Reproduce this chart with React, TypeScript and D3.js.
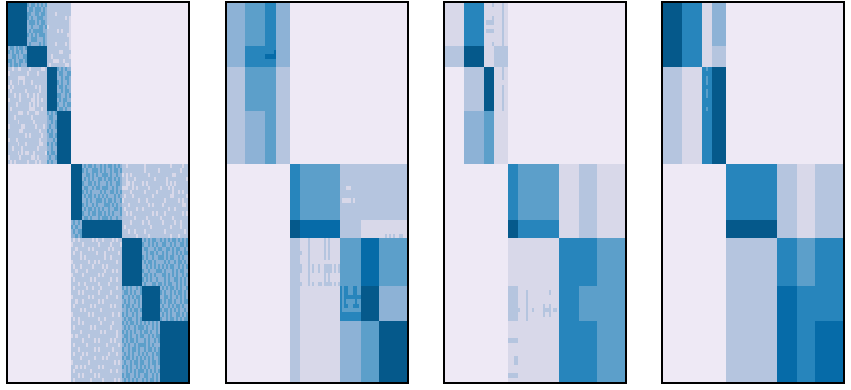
import * as d3 from 'd3'

// colour classes, light to dark
const levels = [0, 1, 2, 3, 4, 5, 6, 7]
const levelColors = ['#eee9f5', '#d8d8e9', '#b5c5df', '#8db2d6', '#5c9fca', '#2785bc', '#066ba8', '#05598b']

// block sizes and how many matrix rows / columns each block holds
const rowSizes = [43, 21, 44, 53, 56, 18, 48, 35, 61]
const rowCounts = [10, 5, 10, 12, 13, 4, 11, 8, 14]
const colCounts = [10, 10, 5, 7, 5, 20, 10, 9, 14]

const colSizes1 = [19, 20, 10, 14, 11, 40, 20, 18, 28]
const colSizes2 = [18, 20, 11, 14, 10, 40, 21, 18, 28]
const colSizes3 = [19, 20, 10, 14, 10, 41, 20, 18, 28]
const colSizes4 = [19, 20, 10, 14, 11, 40, 20, 18, 28]

const blocks1 = [
  [7, 3, 2, 2, 0, 0, 0, 0, 0],
  [3, 7, 2, 2, 0, 0, 0, 0, 0],
  [2, 2, 7, 3, 0, 0, 0, 0, 0],
  [2, 2, 3, 7, 0, 0, 0, 0, 0],
  [0, 0, 0, 0, 7, 3, 2, 2, 2],
  [0, 0, 0, 0, 3, 7, 2, 2, 2],
  [0, 0, 0, 0, 2, 2, 7, 3, 3],
  [0, 0, 0, 0, 2, 2, 3, 7, 3],
  [0, 0, 0, 0, 2, 2, 3, 3, 7],
]
const blocks2 = [
  [3, 4, 5, 3, 0, 0, 0, 0, 0],
  [3, 5, 5, 3, 0, 0, 0, 0, 0],
  [2, 4, 4, 2, 0, 0, 0, 0, 0],
  [2, 3, 4, 2, 0, 0, 0, 0, 0],
  [0, 0, 0, 0, 5, 4, 2, 2, 2],
  [0, 0, 0, 0, 7, 6, 2, 1, 1],
  [0, 0, 0, 0, 2, 1, 4, 6, 4],
  [0, 0, 0, 0, 2, 1, 5, 7, 3],
  [0, 0, 0, 0, 2, 1, 3, 4, 7],
]
const blocks3 = [
  [1, 5, 1, 1, 0, 0, 0, 0, 0],
  [2, 7, 1, 2, 0, 0, 0, 0, 0],
  [0, 2, 7, 1, 0, 0, 0, 0, 0],
  [0, 3, 4, 1, 0, 0, 0, 0, 0],
  [0, 0, 0, 0, 5, 4, 1, 2, 1],
  [0, 0, 0, 0, 7, 5, 1, 2, 1],
  [0, 0, 0, 0, 1, 1, 5, 5, 4],
  [0, 0, 0, 0, 2, 1, 5, 4, 4],
  [0, 0, 0, 0, 1, 1, 5, 5, 4],
]
const blocks4 = [
  [7, 5, 1, 3, 0, 0, 0, 0, 0],
  [7, 5, 1, 2, 0, 0, 0, 0, 0],
  [2, 1, 5, 7, 0, 0, 0, 0, 0],
  [2, 1, 5, 7, 0, 0, 0, 0, 0],
  [0, 0, 0, 0, 5, 5, 2, 1, 2],
  [0, 0, 0, 0, 7, 7, 2, 1, 2],
  [0, 0, 0, 0, 2, 2, 5, 4, 5],
  [0, 0, 0, 0, 2, 2, 6, 5, 5],
  [0, 0, 0, 0, 2, 2, 6, 5, 6],
]

// first panel: '#' marks a cell that moves one class away from its block's base
const altLevel = { 2: 1, 3: 4 }
const noiseTop = [
  '.......... #.##.#.#.# ............',
  '.......... .##.###.#. ............',
  '.......... ##..##.##. ....#.......',
  '.......... #.#..###.. .........#.#',
  '.......... .###.#.##. ...........#',
  '.......... ..#...##.# #..........#',
  '.......... .#.#####.. .....#.#...#',
  '.......... #.#.#.###. ..........##',
  '.......... ..###...#. ...........#',
  '.......... .#....#.#. ....#....#.#',
  '.##.#.##.# .......... ...........#',
  '#.#.##.#.. .......... ......##....',
  '..##.#..## .......... ..#........#',
  '##.#..##.# .......... ...###..#...',
  '.#.##.#... .......... .#.......##.',
  '..#..##....#.....##. ..... #.#.#..',
  '#.........#....#.... ..... .##..##',
  '.....####........... ..... ..#.##.',
  '.#...#..#...#....... ..... #.#..#.',
  '#.#...........#.#... ..... .##.#..',
  '.#.......#......#... ..... ..#.##.',
  '...#..#...#..#.#.... ..... ##..#.#',
  '#.....#.....##.#.#.. ..... .#.##..',
  '....#......#.#.#.... ..... #..#.##',
  '.#.........###...#.. ..... .##.#..',
  '.....###..#...##.... #.#.# .......',
  '...#........#....... .##.. .......',
  '.....#.......#...... ..#.# .......',
  '#......##.....#...#. .#..# .......',
  '......##........#... #.#.. .......',
  '.........#.#.....#.. .##.# .......',
  '#...#...........#... ...#. .......',
  '.....#...#......##.. #.#.# .......',
  '..#....#.......#.... ..#.. .......',
  '.....#.#.##..#.....# #.##. .......',
  '#.....#.....##.#.... .#..# .......',
  '.#.#......#...#.#... #.#.. .......',
]
const noiseBottom = [
  '..... .#.##.#..#.#.##.#.#. ..#....... .#....... .....#.....#..',
  '..... #.#..###.#.#..#.##. #......... ..#...... #..........#..',
  '..... ..##.#.#..###.#..#. .#.#.#.... ....#.... .......##.....',
  '..... .#.#.#..##.#.##.#.#. ..#...#... ......#.. ...#.........#',
  '..... #..##.#.#...#.#..##. ..##.#.... #.#...... ...#.#.#......',
  '..... .##..#.##.###..#.#.. ###..#.#.. ...#..... #...#.#.......',
  '..... #.#.#....#.#..##.#.# ....#..... .#.....#. ......#..#.#..',
  '..... .#.##.#.#.#.#...#.#. .#...#.... .....#... .....##......#',
  '..... ..#.#..###.#.##.#..# #.......#. ..#...... ..#......#.#..',
  '..... #.#..#.#...###.#.#.. ...#...... ...#.#... .#.........##.',
  '..... .#.##.#.#.#..#..##.# .#.....#.. #........ ....#..#......',
  '..... #..#.##.##.#.#.#...# ..#.#..... .....#.#. ..#........#.#',
  '..... .##.#...#.###.#..#.. ......#... ..#...... #.....#.......',
  '.#.#. .................... ....#..... #..#..... .#.....#..#...',
  '#.#.. .................... .#........ ....#.... .....#....#...',
  '.#.## .................... ...#..#... .#....... ..#.........#.',
  '..#.# .................... .......#.. ...#..... .....#...#....',
  '.#.#......#.#..#....#.#.. .......... .#.#.##.. #.#.#.##.#.#.#',
  '#....#.......#.....#....# .......... #..#.#.#. .##..#.#..##.#',
  '..#.....#.#.......#.#.... .......... .##...#.# #..##.#.##..#.',
  '.#..#.......#...#......#. .......... ..#.##.#. .#.#..#.#.#.##',
  '....#.#.........#..#..... .......... #.#..#..# ##.#.##..#.#..',
  '#.......#..#.#........#.. .......... .#.##.#.. ..#.#..#.##.#.',
  '.#..#.....#....#.#....... .......... ..#.#.#.# .#.#.##..#.#.#',
  '..#....#........#...#.#.. .......... #..#...## #.#...#.#.##..',
  '#....#.......#.#......... .......... .##.#.#.. .##.#.#.#..#.#',
  '.#.......#.#.......#..#.. .......... #.#.#..#. ..#.#..##.#.#.',
  '...#..#......#....#...... .......... .#...##.# #.#.##..#.#.#.',
  '.#.....#..#...#.......#.. #.#.#..#.# ......... .#.#.##.#.#..#',
  '...#.#.......#.....#..... .##.#.#..# ......... #.#..#.#.##.#.',
  '#.......#.#......#....#.. #..#.#.##. ......... ..##.#..#.#.#.',
  '..#..#.......#.#......... .#.#..#.#. ......... #.#.##.#..#.##',
  '.#.......#.#.......#.#... #.##.#..#. ......... .#..#.#.##.#..',
  '....#.#.......#.......... ..#.#.##.# ......... #.##.#.#.#..#.',
  '#.......#.#.........#..#. #.#..#.#.. ......... .#.#.#..##.#.#',
  '.#.#.........#..#........ .#.##..#.# ......... #..#.##.#.#.##',
  '...#.#........#.....#.... #.#.##.#.# .#.#.#.#. ..............',
  '.#.......#.#.......#..... .#.#..#.## #.#..#.#. ..............',
  '....#.........#.#.....#.. #.#.#.#..# .##.#..#. ..............',
  '#.#.....#.............#.. .##.#..#.# #..#.#.## ..............',
  '.....#.....#.#.....#.#... #.#.##.#.. .#.#..#.# ..............',
  '.#.....#.........#.....#. .#.#..#.## ##.#.#... ..............',
  '...#.......#.#......#.... #..#.##.#. .#.##.#.# ..............',
  '.#...#.#..........#...#.. .#.#.#..#. #.#..#.## ..............',
  '....#......#...#.#....... #.##.#.#.# .#.#.#..# ..............',
  '#.......#............#.#. .#..#.##.# #..#.##.# ..............',
  '..#.#.#......#.#......... #.#.#..#.# .#.#..#.. ..............',
  '.#.......#.........#..#.. ..#.#.#.## #.#.#.#.# ..............',
  '...#.#.....#.#........... #.##..#.#. .##..#.#. ..............',
  '.#.......#.....#.....#.#. .#.#.#.#.. #.#.##.#. ..............',
]

// small patches: [rowBlock, firstRow, lastRow, colBlock, firstCol, lastCol, level], all local to the block
const patches2 = [
  [1, 2, 2, 2, 0, 4, 6],
  [1, 1, 1, 2, 4, 4, 6],
  [4, 5, 5, 6, 3, 4, 1],
  [4, 8, 8, 6, 1, 4, 1],
  [4, 8, 8, 6, 6, 6, 1],
  [5, 3, 3, 8, 3, 3, 2],
  [5, 3, 3, 8, 5, 5, 2],
  [5, 3, 3, 8, 7, 7, 2],
  [5, 3, 3, 8, 10, 11, 2],
  [5, 0, 3, 6, 0, 9, 2],
  [6, 0, 10, 5, 4, 4, 2],
  [6, 0, 4, 5, 12, 12, 2],
  [6, 0, 4, 5, 14, 14, 2],
  [6, 3, 3, 5, 0, 0, 2],
  [6, 6, 7, 5, 0, 0, 2],
  [6, 6, 7, 5, 6, 6, 2],
  [6, 6, 7, 5, 9, 9, 2],
  [6, 6, 7, 5, 12, 15, 2],
  [6, 6, 7, 5, 17, 17, 2],
  [6, 6, 7, 5, 19, 19, 2],
  [6, 8, 9, 5, 12, 12, 2],
  [6, 8, 9, 5, 14, 14, 2],
  [6, 10, 10, 5, 0, 0, 2],
  [6, 10, 10, 5, 6, 6, 2],
  [6, 10, 10, 5, 9, 10, 2],
  [6, 10, 10, 5, 12, 15, 2],
  [6, 10, 10, 5, 17, 17, 2],
  [6, 10, 10, 5, 19, 19, 2],
  [7, 0, 5, 6, 1, 9, 4],
  [7, 0, 2, 6, 2, 3, 5],
  [7, 0, 2, 6, 6, 7, 5],
  [7, 2, 2, 6, 3, 9, 5],
  [7, 3, 4, 6, 2, 2, 5],
  [7, 4, 4, 6, 2, 3, 5],
  [7, 3, 4, 6, 7, 7, 5],
  [7, 4, 4, 6, 6, 8, 5],
]
const patches3 = [
  [0, 0, 0, 2, 4, 4, 2],
  [0, 3, 4, 2, 4, 4, 2],
  [0, 9, 9, 2, 4, 4, 2],
  [0, 4, 4, 2, 1, 3, 2],
  [0, 6, 6, 2, 1, 4, 2],
  [0, 0, 9, 3, 4, 4, 2],
  [2, 0, 2, 3, 4, 4, 2],
  [2, 4, 9, 3, 4, 4, 2],
  [7, 5, 5, 5, 0, 0, 2],
  [7, 1, 7, 5, 4, 4, 2],
  [7, 5, 5, 5, 7, 7, 2],
  [7, 4, 6, 5, 12, 12, 2],
  [7, 5, 5, 5, 13, 15, 2],
  [7, 4, 6, 5, 15, 15, 2],
  [7, 1, 1, 5, 15, 15, 2],
  [7, 5, 5, 5, 17, 18, 2],
  [8, 4, 4, 4, 0, 4, 2],
  [8, 8, 9, 4, 3, 4, 2],
  [8, 12, 12, 4, 0, 4, 2],
]
const patches4 = [
  [2, 0, 0, 2, 2, 2, 4],
  [2, 2, 3, 2, 2, 2, 4],
  [2, 5, 6, 2, 2, 2, 4],
  [2, 9, 9, 2, 2, 2, 4],
]

const noiseRows = [...noiseTop, ...noiseBottom].map((row) => row.replace(/ /g, ''))

const panels = [
  { left: 8, colSizes: colSizes1, blocks: blocks1, patches: [], noise: true },
  { left: 227, colSizes: colSizes2, blocks: blocks2, patches: patches2, noise: false },
  { left: 445, colSizes: colSizes3, blocks: blocks3, patches: patches3, noise: false },
  { left: 663, colSizes: colSizes4, blocks: blocks4, patches: patches4, noise: false },
]

const top = 3
const plotHeight = 379
const plotWidth = 180

const color = d3.scaleOrdinal<number, string>().domain(levels).range(levelColors)

// block edges through a linear scale over the summed sizes
function blockEdges(sizes: number[], start: number, length: number) {
  const scale = d3.scaleLinear().domain([0, d3.sum(sizes)]).range([start, start + length])
  return [0, ...d3.cumsum(sizes)].map((d) => scale(d))
}

// edge of a single matrix row / column inside a block
function cellEdge(edges: number[], counts: number[], block: number, index: number) {
  const scale = d3.scaleLinear().domain([0, counts[block]]).range([edges[block], edges[block + 1]])
  return scale(index)
}

function Panel({ panel }: { panel: (typeof panels)[number] }) {
  const xEdges = blockEdges(panel.colSizes, panel.left, plotWidth)
  const yEdges = blockEdges(rowSizes, top, plotHeight)

  const cellRect = (rb: number, r0: number, r1: number, cb: number, c0: number, c1: number) => {
    const x = cellEdge(xEdges, colCounts, cb, c0)
    const y = cellEdge(yEdges, rowCounts, rb, r0)
    return {
      x,
      y,
      width: cellEdge(xEdges, colCounts, cb, c1 + 1) - x,
      height: cellEdge(yEdges, rowCounts, rb, r1 + 1) - y,
    }
  }

  const noiseCells: { rb: number; r: number; cb: number; c: number; level: number }[] = []
  if (panel.noise) {
    const rowStarts = [0, ...d3.cumsum(rowCounts)]
    const colStarts = [0, ...d3.cumsum(colCounts)]
    rowCounts.forEach((rowCount, rb) => {
      d3.range(rowCount).forEach((r) => {
        const line = noiseRows[rowStarts[rb] + r]
        // the bottom half of the list starts at the fifth column block
        const offset = rb >= 4 ? colStarts[4] : 0
        colCounts.forEach((colCount, cb) => {
          d3.range(colCount).forEach((c) => {
            const base = panel.blocks[rb][cb]
            const alt = altLevel[base as 2 | 3]
            if (alt !== undefined && line[colStarts[cb] + c - offset] === '#') {
              noiseCells.push({ rb, r, cb, c, level: alt })
            }
          })
        })
      })
    })
  }

  return (
    <g shapeRendering="crispEdges">
      {panel.blocks.map((row, rb) =>
        row.map((level, cb) => (
          <rect
            key={`${rb}-${cb}`}
            x={xEdges[cb]}
            y={yEdges[rb]}
            width={xEdges[cb + 1] - xEdges[cb]}
            height={yEdges[rb + 1] - yEdges[rb]}
            fill={color(level)}
          />
        ))
      )}
      {noiseCells.map((d, i) => (
        <rect key={`n${i}`} {...cellRect(d.rb, d.r, d.r, d.cb, d.c, d.c)} fill={color(d.level)} />
      ))}
      {panel.patches.map((p, i) => (
        <rect key={`p${i}`} {...cellRect(p[0], p[1], p[2], p[3], p[4], p[5])} fill={color(p[6])} />
      ))}
      <rect
        x={panel.left - 1}
        y={top - 1}
        width={plotWidth + 2}
        height={plotHeight + 2}
        fill="none"
        stroke="#000"
        strokeWidth={2}
      />
    </g>
  )
}

export default function App() {
  return (
    <svg width={851} height={390} style={{ position: 'absolute', left: 0, top: 0, background: '#fff' }}>
      {panels.map((panel) => (
        <Panel key={panel.left} panel={panel} />
      ))}
    </svg>
  )
}
